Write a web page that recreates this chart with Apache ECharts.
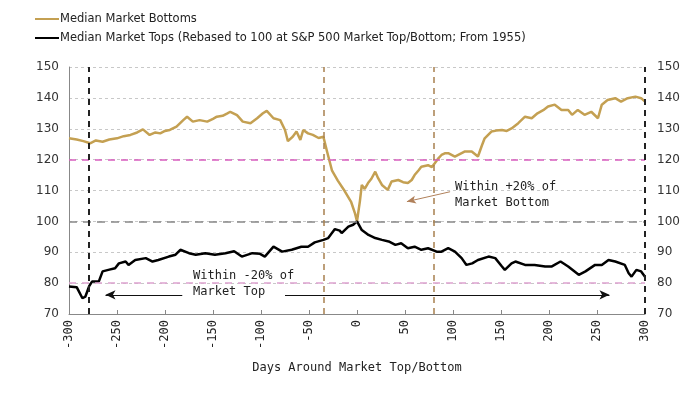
<!DOCTYPE html>
<html><head><meta charset="utf-8">
<script src="https://cdn.jsdelivr.net/npm/echarts@6/dist/echarts.min.js"></script>
<style>html,body{margin:0;padding:0;background:#fff}#c{width:700px;height:394px}</style>
</head><body><div id="c"></div>
<script>
var seriesNames = ['Median Market Bottoms', 'Median Market Tops (Rebased to 100 at S&P 500 Market Top/Bottom; From 1955)'];
var xTicks = [-300,-250,-200,-150,-100,-50,0,50,100,150,200,250,300];
var yTicks = [70,80,90,100,110,120,130,140,150];
var bottomsDays = [-300,-292,-285,-278,-272,-265,-258,-250,-243,-236,-229,-223,-216,-210,-205,-200,-195,-188,-181,-177,-171,-164,-156,-150,-146,-140,-135,-132,-125,-119,-111,-104,-98,-94,-87,-80,-75,-72,-67,-63,-59,-56,-51,-46,-40,-35,-31,-26,-20,-13,-6,-2,0,3,5,8,11.5,15,19,22,26,32,36,43,48,53,57,60,64,67,74,78,81,85,88,92,95,102,107,112,119.5,126,130,133,140,145,151,156,161,168,175,182,188,194,199,206,213,220,224,230,237,244,251,255,261,269,275,282,290,296,300];
var bottomsVals = [126.9,126.5,126.0,125.3,126.2,125.8,126.5,126.9,127.6,128.0,128.8,129.8,128.0,128.8,128.5,129.3,129.6,130.7,132.8,133.9,132.3,132.8,132.3,133.2,133.9,134.2,135.0,135.5,134.4,132.3,131.8,133.4,135.0,135.8,133.4,132.8,129.6,126.0,127.4,129.1,126.4,129.6,128.5,128.0,127.0,127.4,122.4,116.4,113.2,109.9,106.2,102.5,100,106.5,111.8,110.5,112.4,113.8,116.1,114,111.8,110.2,112.9,113.4,112.7,112.4,113.4,115.0,116.5,117.7,118.2,117.6,118.8,120.5,121.5,122.1,122.1,121.0,121.8,122.6,122.6,121.0,124.5,126.9,129.1,129.4,129.6,129.3,130.1,131.8,133.9,133.4,135.0,136.0,137.2,137.8,136.1,136.1,134.5,136.1,134.5,135.5,133.4,137.8,139.3,139.9,138.8,139.9,140.4,139.9,138.8];
var topsDays = [-300,-292,-286,-283,-279,-276,-269,-265,-259,-252,-248,-241,-238,-231,-220,-213,-207,-196,-189,-184,-175,-168,-158,-148,-137,-128,-120,-109,-101,-96,-87,-78,-68,-58,-51,-44,-35,-30,-23,-18,-16,-9,-4,0,5,12,19,26,33,40,46,53,60,67,74,83,88,95,102,109,114,120,126,137,144,151,154,161,165,175,185,196,203,212,220,231,238,248,255,262,269,279,283,286,291,296,300];
var topsVals = [78.9,78.7,75.1,75.6,79,80.5,80.5,83.8,84.3,84.8,86.4,87.0,85.9,87.5,88.1,87.0,87.5,88.6,89.2,90.8,89.7,89.2,89.7,89.2,89.7,90.3,88.6,89.7,89.5,88.6,91.8,90.2,90.8,91.8,91.8,93.2,94.0,94.6,97.5,97.0,96.2,98.3,98.9,100,97.2,95.6,94.6,94.0,93.5,92.4,92.9,91.3,91.8,90.8,91.3,90.2,90.2,91.3,90.2,88.1,85.9,86.4,87.5,88.6,88.1,85.4,84.3,86.4,87.0,85.9,85.9,85.4,85.4,87.0,85.4,82.7,83.8,85.9,85.9,87.5,87.0,85.9,83.2,82.1,84.3,83.8,82.1];
var vLines = [-279,-35,80,300];
var hLines = [120,100,80];
var annBottom = ['Within +20% of','Market Bottom'];
var annTop = ['Within -20% of','Market Top'];

function pairs(d,v){return d.map(function(x,i){return [x,v[i]];});}
var gold = '#C4A052';
var chart = echarts.init(document.getElementById('c'));
var yLab = {color:'#333', fontFamily:'DejaVu Sans', fontSize:12};
chart.setOption({
  animation:false,
  grid:{left:69,right:55,top:67,bottom:80},
  legend:{
    orient:'vertical', left:30, top:8, itemGap:7, itemWidth:24, itemHeight:2,
    icon:'rect',
    textStyle:{fontFamily:'DejaVu Sans', fontSize:11.5, color:'#222', padding:[0,0,0,-4]},
    data:seriesNames
  },
  xAxis:{
    type:'value', min:-300, max:300, interval:50,
    name:'Days Around Market Top/Bottom', nameLocation:'middle', nameGap:48,
    nameTextStyle:{fontFamily:'DejaVu Sans Mono', fontSize:12, color:'#222'},
    axisLine:{onZero:false, lineStyle:{color:'#888', width:1}},
    axisTick:{inside:true, length:4, lineStyle:{color:'#888'}},
    axisLabel:{rotate:90, fontFamily:'DejaVu Sans Mono', fontSize:12, color:'#222', margin:6,
      formatter:function(v){return xTicks.indexOf(v)>=0?String(v):'';}},
    splitLine:{show:false}
  },
  yAxis:[{
    type:'value', min:70, max:150, interval:10, position:'left',
    axisLine:{show:true, onZero:false, lineStyle:{color:'#888'}}, axisTick:{show:false},
    axisLabel:Object.assign({margin:10, formatter:function(v){return yTicks.indexOf(v)>=0?String(v):'';}}, yLab),
    splitLine:{show:true, lineStyle:{color:'#c8c8c8', type:[3,3], width:1}}
  },{
    type:'value', min:70, max:150, interval:10, position:'right',
    axisLine:{show:false, onZero:false}, axisTick:{show:false},
    axisLabel:Object.assign({margin:12}, yLab),
    splitLine:{show:false}
  }],
  graphic:[
    {type:'text', left:455, top:179, style:{text:annBottom.join('\n'), font:'12px "DejaVu Sans Mono"', fill:'#222', lineHeight:16}},
    {type:'text', left:193, top:268, style:{text:annTop.join('\n'), font:'12px "DejaVu Sans Mono"', fill:'#222', lineHeight:16}}
  ],
  series:[{
    name:seriesNames[0], type:'line', data:pairs(bottomsDays,bottomsVals), showSymbol:false, z:3,
    lineStyle:{color:gold, width:2.5}, itemStyle:{color:gold},
    markLine:{
      silent:true, symbol:'none', label:{show:false},
      data:[
        {yAxis:hLines[0], lineStyle:{color:'#D85DBE', type:[7,6], width:1.5}},
        {yAxis:hLines[1], lineStyle:{color:'#888', type:[8,6], width:1.5}},
        {yAxis:hLines[2], lineStyle:{color:'#DDA3CF', type:[7,6], width:1.5}},
        {xAxis:vLines[0], lineStyle:{color:'#222', type:[6,5], width:2}},
        {xAxis:vLines[1], lineStyle:{color:'#A8804F', type:[6,5], width:1.5}},
        {xAxis:vLines[2], lineStyle:{color:'#A8804F', type:[6,5], width:1.5}},
        {xAxis:vLines[3], lineStyle:{color:'#222', type:[6,5], width:2}},
        [{coord:[97,109.6], symbol:'none'},{coord:[52,106.4], symbol:'arrow', symbolSize:[6,9]}]
      ].map(function(d){ if(Array.isArray(d)){d[0].lineStyle={color:'#B0805A',width:1,type:'solid'};} return d;})
    }
  },{
    name:seriesNames[1], type:'line', data:pairs(topsDays,topsVals), showSymbol:false, z:4,
    lineStyle:{color:'#000', width:2.5}, itemStyle:{color:'#000'},
    markLine:{
      silent:true, label:{show:false}, symbolSize:[7,10],
      lineStyle:{color:'#111', width:1, type:'solid'},
      data:[
        [{coord:[-262,76.2], symbol:'arrow'},{coord:[-182,76.2], symbol:'none'}],
        [{coord:[-75,76.2], symbol:'none'},{coord:[263,76.2], symbol:'arrow'}]
      ]
    }
  }]
});
</script></body></html>
